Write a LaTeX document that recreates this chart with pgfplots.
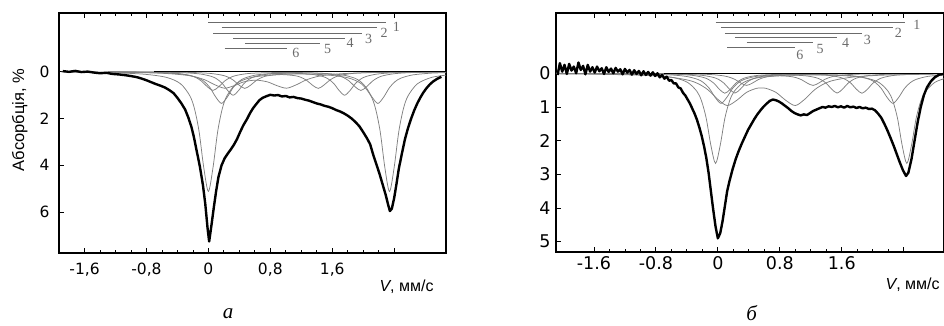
\documentclass[border=0pt]{standalone}
\usepackage{fontspec}
\usepackage{pgfplots}
\pgfplotsset{compat=1.18}
\newfontfamily\dvs{DejaVu Sans}
\newfontfamily\lsans{Liberation Sans}
\newfontfamily\lserif{Liberation Serif}
\definecolor{compc}{gray}{0.5}
\definecolor{legc}{gray}{0.42}
\tikzset{legn/.style={legc, font=\lserif\fontsize{14}{15}\selectfont}}
\pgfplotsset{
 spec/.style={
  scale only axis, y dir=reverse, axis line style={line width=1.3pt},
  xtick pos=both, ytick pos=left, minor x tick num=3,
  major tick length=5pt, minor tick length=3pt,
  every tick/.style={black, line width=0.9pt},
  every minor tick/.append style={black, line width=0.8pt},
  xtick={-1.6,-0.8,0,0.8,1.6,2.4},
  xlabel={\lsans\fontsize{16}{18}\selectfont\textit{V}, мм/с},
  clip=true,
 },
 compl/.style={compc, line width=0.75pt, smooth, no marks},
 env/.style={black, line width=2.4pt, no marks, line join=round},
 legl/.style={legc, line width=1.2pt, no marks},
}
\begin{document}
\begin{tikzpicture}
\useasboundingbox (0,0) rectangle (944pt,325pt);
% ---------------- panel a ----------------
\begin{axis}[spec, at={(59pt,72pt)}, anchor=south west, width=387pt, height=240pt,
  xmin=-1.93, xmax=3.07, ymin=-2.5, ymax=7.74,
  xticklabels={{-1,6},{-0,8},0,{0,8},{1,6},{}},
  ytick={0,2,4,6}, yticklabels={0,2,4,6},
  tick label style={font=\dvs\fontsize{15.5}{18}\selectfont},
  xticklabel style={yshift=-6pt}, yticklabel style={xshift=-6pt},
  ylabel={\lsans\fontsize{16.5}{18}\selectfont Абсорбція, \%},
  ylabel style={at={(axis description cs:-0.1016,0.554)}, anchor=center},
  xlabel style={at={(axis description cs:0.898,-0.140)}, anchor=center},
]
% legend bars
\addplot[legl] coordinates {(0.00,-2.11) (2.30,-2.11)};
\addplot[legl] coordinates {(0.17,-1.89) (2.18,-1.89)};
\addplot[legl] coordinates {(0.06,-1.64) (1.98,-1.64)};
\addplot[legl] coordinates {(0.32,-1.42) (1.76,-1.42)};
\addplot[legl] coordinates {(0.47,-1.21) (1.44,-1.21)};
\addplot[legl] coordinates {(0.21,-1.00) (1.01,-1.00)};
\node[legn] at (axis cs:2.43,-1.90) {1};
\node[legn] at (axis cs:2.27,-1.66) {2};
\node[legn] at (axis cs:2.07,-1.40) {3};
\node[legn] at (axis cs:1.83,-1.22) {4};
\node[legn] at (axis cs:1.54,-0.97) {5};
\node[legn] at (axis cs:1.13,-0.80) {6};
% components
\addplot[compl] coordinates {(-1.9,0.02) (-1.3,0.043) (-0.84,0.109) (-0.54,0.248) (-0.36,0.519) (-0.24,1.03) (-0.18,1.579) (-0.12,2.56) (-0.06,4.09) (0,5.11) (0.06,4.09) (0.12,2.56) (0.18,1.58) (0.24,1.03) (0.36,0.52) (0.54,0.263) (0.84,0.135) (1.17,0.106) (1.50,0.135) (1.80,0.263) (1.98,0.53) (2.10,1.04) (2.16,1.585) (2.22,2.565) (2.28,4.095) (2.34,5.115) (2.40,4.094) (2.46,2.564) (2.52,1.582) (2.58,1.033) (2.70,0.522) (2.88,0.251) (3.07,0.15)};
\addplot[compl] coordinates {(-1.3,0.014) (-0.88,0.03) (-0.505,0.068) (-0.28,0.139) (-0.13,0.275) (-0.055,0.42) (0.02,0.68) (0.095,1.085) (0.17,1.355) (0.245,1.085) (0.32,0.68) (0.395,0.42) (0.47,0.276) (0.62,0.142) (0.845,0.08) (1.18,0.058) (1.515,0.08) (1.74,0.147) (1.89,0.28) (1.965,0.424) (2.04,0.683) (2.115,1.088) (2.19,1.357) (2.265,1.087) (2.34,0.682) (2.415,0.421) (2.49,0.276) (2.64,0.141) (2.865,0.069) (3.07,0.044)};
\addplot[compl] coordinates {(-1.3,0.01) (-0.99,0.018) (-0.615,0.04) (-0.39,0.082) (-0.24,0.163) (-0.165,0.249) (-0.09,0.403) (-0.015,0.643) (0.06,0.803) (0.135,0.643) (0.21,0.403) (0.285,0.249) (0.36,0.164) (0.51,0.084) (0.735,0.049) (1.015,0.039) (1.295,0.049) (1.52,0.088) (1.67,0.167) (1.745,0.252) (1.82,0.406) (1.895,0.645) (1.97,0.805) (2.045,0.645) (2.12,0.405) (2.195,0.251) (2.27,0.165) (2.42,0.084) (2.645,0.04) (3.07,0.018)};
\addplot[compl] coordinates {(-1.3,0.009) (-0.66,0.023) (-0.31,0.051) (-0.10,0.105) (0.04,0.206) (0.11,0.314) (0.18,0.507) (0.25,0.807) (0.32,1.008) (0.39,0.808) (0.46,0.508) (0.53,0.317) (0.60,0.21) (0.74,0.119) (0.88,0.083) (1.04,0.073) (1.20,0.083) (1.34,0.119) (1.48,0.21) (1.55,0.317) (1.62,0.508) (1.69,0.808) (1.76,1.008) (1.83,0.807) (1.90,0.507) (1.97,0.314) (2.04,0.206) (2.18,0.105) (2.39,0.051) (2.74,0.023) (3.07,0.014)};
\addplot[compl] coordinates {(-1.3,0.007) (-0.58,0.018) (-0.205,0.038) (0.02,0.076) (0.17,0.148) (0.245,0.223) (0.32,0.359) (0.395,0.57) (0.47,0.717) (0.545,0.58) (0.62,0.374) (0.695,0.244) (0.77,0.175) (0.945,0.127) (1.12,0.175) (1.195,0.244) (1.27,0.374) (1.345,0.58) (1.42,0.717) (1.495,0.57) (1.57,0.359) (1.645,0.223) (1.72,0.148) (1.87,0.076) (2.095,0.038) (2.47,0.018) (3.07,0.008)};
\addplot[compl] coordinates {(-1.54,0.019) (-0.915,0.042) (-0.54,0.082) (-0.29,0.153) (-0.165,0.228) (-0.04,0.36) (0.085,0.564) (0.21,0.708) (0.335,0.598) (0.46,0.436) (0.61,0.365) (0.76,0.436) (0.885,0.598) (1.01,0.708) (1.135,0.564) (1.26,0.36) (1.385,0.228) (1.51,0.153) (1.76,0.082) (2.135,0.042) (2.76,0.019) (3.07,0.015)};
% baseline
\addplot[black, line width=1.5pt, no marks] coordinates {(-0.7,0) (3.07,0)};
% experimental envelope
\addplot[env] coordinates {(-1.88,-0.02) (-1.80,0.01) (-1.72,-0.03) (-1.64,0.02) (-1.56,0.00) (-1.48,0.04) (-1.40,0.07) (-1.32,0.05) (-1.24,0.10) (-1.16,0.12) (-1.08,0.15) (-1.00,0.19) (-0.92,0.24) (-0.86,0.30) (-0.80,0.37) (-0.74,0.45) (-0.68,0.53) (-0.62,0.60) (-0.56,0.68) (-0.50,0.80) (-0.45,0.92) (-0.40,1.12) (-0.35,1.35) (-0.30,1.62) (-0.26,1.95) (-0.22,2.35) (-0.19,2.75) (-0.15,3.40) (-0.11,4.05) (-0.07,4.85) (-0.04,5.65) (-0.01,6.70) (0.01,7.25) (0.04,6.55) (0.07,5.80) (0.10,5.10) (0.13,4.50) (0.17,4.00) (0.21,3.70) (0.25,3.50) (0.29,3.32) (0.33,3.12) (0.37,2.88) (0.41,2.58) (0.45,2.30) (0.50,2.02) (0.54,1.76) (0.58,1.55) (0.62,1.38) (0.66,1.22) (0.70,1.12) (0.75,1.05) (0.80,0.99) (0.85,1.02) (0.90,1.00) (0.95,1.06) (1.00,1.04) (1.05,1.10) (1.10,1.08) (1.15,1.13) (1.20,1.15) (1.25,1.20) (1.30,1.24) (1.35,1.30) (1.40,1.36) (1.45,1.40) (1.50,1.46) (1.55,1.50) (1.60,1.56) (1.65,1.64) (1.70,1.70) (1.75,1.78) (1.80,1.88) (1.85,2.00) (1.90,2.15) (1.95,2.33) (2.00,2.58) (2.05,2.85) (2.09,3.10) (2.13,3.55) (2.17,3.95) (2.21,4.35) (2.25,4.80) (2.29,5.25) (2.32,5.65) (2.345,5.95) (2.37,5.85) (2.40,5.40) (2.43,4.80) (2.46,4.15) (2.50,3.50) (2.54,2.88) (2.58,2.40) (2.62,2.00) (2.66,1.65) (2.70,1.35) (2.74,1.10) (2.78,0.88) (2.82,0.70) (2.86,0.55) (2.90,0.43) (2.95,0.32) (3.01,0.22)};
\end{axis}
% ---------------- panel b ----------------
\begin{axis}[spec, at={(556pt,73pt)}, anchor=south west, width=388pt, height=239pt,
  xmin=-2.09, xmax=2.92, ymin=-1.79, ymax=5.306,
  xticklabels={-1.6,-0.8,0,0.8,1.6,{}},
  ytick={0,1,2,3,4,5}, yticklabels={0,1,2,3,4,5},
  tick label style={font=\dvs\fontsize{17.5}{20}\selectfont},
  xticklabel style={yshift=-1pt}, yticklabel style={xshift=-2pt},
  xlabel style={at={(axis description cs:0.919,-0.136)}, anchor=center},
]
\addplot[legl] coordinates {(-0.03,-1.51) (2.42,-1.51)};
\addplot[legl] coordinates {(0.04,-1.37) (2.26,-1.37)};
\addplot[legl] coordinates {(0.09,-1.19) (1.86,-1.19)};
\addplot[legl] coordinates {(0.22,-1.07) (1.54,-1.07)};
\addplot[legl] coordinates {(0.37,-0.92) (1.23,-0.92)};
\addplot[legl] coordinates {(0.12,-0.77) (1.00,-0.77)};
\node[legn] at (axis cs:2.57,-1.43) {1};
\node[legn] at (axis cs:2.33,-1.21) {2};
\node[legn] at (axis cs:1.93,-0.99) {3};
\node[legn] at (axis cs:1.65,-0.89) {4};
\node[legn] at (axis cs:1.32,-0.72) {5};
\node[legn] at (axis cs:1.06,-0.54) {6};
\addplot[compl] coordinates {(-2.09,0.009) (-1.4,0.022) (-0.87,0.056) (-0.57,0.13) (-0.39,0.272) (-0.27,0.539) (-0.21,0.827) (-0.15,1.34) (-0.09,2.141) (-0.03,2.675) (0.03,2.141) (0.09,1.34) (0.15,0.828) (0.21,0.54) (0.33,0.273) (0.51,0.135) (0.81,0.067) (1.205,0.05) (1.60,0.067) (1.90,0.135) (2.08,0.273) (2.20,0.54) (2.26,0.828) (2.32,1.34) (2.38,2.141) (2.44,2.675) (2.50,2.141) (2.56,1.34) (2.62,0.827) (2.68,0.539) (2.80,0.272) (2.92,0.162)};
\addplot[compl] coordinates {(-2.09,0.004) (-1.01,0.02) (-0.635,0.045) (-0.41,0.092) (-0.26,0.181) (-0.185,0.277) (-0.11,0.448) (-0.035,0.715) (0.04,0.893) (0.115,0.716) (0.19,0.449) (0.265,0.278) (0.34,0.182) (0.49,0.094) (0.715,0.05) (1.15,0.032) (1.585,0.05) (1.81,0.094) (1.96,0.182) (2.035,0.278) (2.11,0.449) (2.185,0.716) (2.26,0.893) (2.335,0.715) (2.41,0.448) (2.485,0.277) (2.56,0.181) (2.71,0.092) (2.92,0.046)};
\addplot[compl] coordinates {(-2.09,0.002) (-0.89,0.014) (-0.54,0.03) (-0.33,0.061) (-0.19,0.121) (-0.12,0.185) (-0.05,0.298) (0.02,0.475) (0.09,0.593) (0.16,0.475) (0.23,0.298) (0.30,0.185) (0.37,0.122) (0.51,0.063) (0.72,0.037) (0.975,0.029) (1.23,0.037) (1.44,0.063) (1.58,0.122) (1.65,0.185) (1.72,0.298) (1.79,0.475) (1.86,0.593) (1.93,0.475) (2.00,0.298) (2.07,0.185) (2.14,0.121) (2.28,0.061) (2.49,0.03) (2.92,0.011)};
\addplot[compl] coordinates {(-2.09,0.002) (-0.76,0.014) (-0.41,0.03) (-0.20,0.062) (-0.06,0.121) (0.01,0.183) (0.08,0.296) (0.15,0.47) (0.22,0.587) (0.29,0.472) (0.36,0.298) (0.43,0.187) (0.50,0.126) (0.64,0.072) (0.88,0.05) (1.12,0.072) (1.26,0.126) (1.33,0.187) (1.40,0.298) (1.47,0.472) (1.54,0.587) (1.61,0.47) (1.68,0.296) (1.75,0.183) (1.82,0.121) (1.96,0.062) (2.17,0.03) (2.52,0.014) (2.92,0.007)};
\addplot[compl] coordinates {(-2.09,0.002) (-0.68,0.009) (-0.305,0.02) (-0.08,0.039) (0.07,0.075) (0.145,0.114) (0.22,0.181) (0.295,0.287) (0.37,0.36) (0.445,0.292) (0.52,0.19) (0.595,0.126) (0.67,0.094) (0.80,0.076) (0.93,0.094) (1.005,0.126) (1.08,0.19) (1.155,0.292) (1.23,0.36) (1.305,0.287) (1.38,0.181) (1.455,0.114) (1.53,0.075) (1.68,0.039) (1.905,0.02) (2.28,0.009) (2.92,0.005)};
\addplot[compl] coordinates {(-2.09,0.017) (-1.63,0.026) (-1.005,0.056) (-0.63,0.11) (-0.38,0.206) (-0.255,0.308) (-0.13,0.487) (-0.005,0.764) (0.12,0.957) (0.245,0.80) (0.37,0.566) (0.495,0.449) (0.56,0.434) (0.625,0.449) (0.75,0.566) (0.875,0.80) (1.0,0.957) (1.125,0.764) (1.25,0.487) (1.375,0.308) (1.5,0.206) (1.75,0.11) (2.125,0.056) (2.75,0.026) (2.92,0.022)};
\addplot[black, line width=1.5pt, no marks] coordinates {(-0.7,0) (2.92,0)};
\addplot[env] coordinates {(-2.07,0.05) (-2.04,-0.30) (-2.01,-0.05) (-1.98,-0.25) (-1.95,0.02) (-1.92,-0.28) (-1.89,-0.08) (-1.86,-0.20) (-1.83,0.00) (-1.80,-0.32) (-1.77,-0.10) (-1.74,-0.22) (-1.71,0.03) (-1.68,-0.25) (-1.65,-0.05) (-1.62,-0.18) (-1.59,-0.02) (-1.56,-0.20) (-1.53,-0.06) (-1.50,-0.15) (-1.47,0.02) (-1.44,-0.18) (-1.41,-0.04) (-1.38,-0.14) (-1.35,0.00) (-1.32,-0.16) (-1.29,-0.05) (-1.26,-0.12) (-1.23,0.03) (-1.20,-0.13) (-1.17,-0.02) (-1.14,-0.10) (-1.11,0.04) (-1.08,-0.09) (-1.05,0.02) (-1.02,-0.07) (-0.99,0.06) (-0.96,-0.06) (-0.93,0.05) (-0.90,-0.04) (-0.87,0.07) (-0.84,-0.03) (-0.81,0.08) (-0.78,0.00) (-0.75,0.12) (-0.72,0.05) (-0.69,0.16) (-0.66,0.10) (-0.63,0.22) (-0.60,0.20) (-0.57,0.30) (-0.54,0.30) (-0.51,0.42) (-0.48,0.45) (-0.45,0.58) (-0.42,0.66) (-0.39,0.78) (-0.36,0.90) (-0.33,1.05) (-0.30,1.20) (-0.27,1.38) (-0.24,1.60) (-0.21,1.85) (-0.18,2.15) (-0.15,2.50) (-0.12,2.95) (-0.09,3.50) (-0.06,4.05) (-0.03,4.55) (0.00,4.90) (0.03,4.75) (0.06,4.40) (0.09,3.95) (0.12,3.50) (0.15,3.20) (0.19,2.85) (0.23,2.55) (0.27,2.30) (0.31,2.08) (0.35,1.88) (0.39,1.68) (0.43,1.52) (0.47,1.36) (0.51,1.22) (0.55,1.10) (0.59,0.99) (0.63,0.90) (0.67,0.82) (0.71,0.78) (0.75,0.80) (0.79,0.84) (0.83,0.90) (0.87,0.97) (0.91,1.04) (0.95,1.12) (0.99,1.18) (1.03,1.22) (1.07,1.25) (1.11,1.22) (1.15,1.24) (1.19,1.18) (1.23,1.12) (1.27,1.08) (1.31,1.04) (1.35,1.00) (1.39,1.02) (1.43,0.98) (1.47,1.00) (1.51,0.97) (1.55,1.01) (1.59,0.98) (1.63,1.02) (1.67,0.97) (1.71,1.01) (1.75,0.99) (1.79,1.03) (1.83,1.00) (1.87,1.04) (1.91,1.02) (1.95,1.06) (1.99,1.05) (2.03,1.10) (2.07,1.20) (2.11,1.32) (2.15,1.50) (2.19,1.70) (2.23,1.92) (2.27,2.15) (2.31,2.40) (2.35,2.65) (2.39,2.88) (2.43,3.05) (2.46,2.95) (2.50,2.55) (2.54,2.00) (2.58,1.45) (2.62,1.00) (2.66,0.65) (2.70,0.42) (2.75,0.24) (2.80,0.12) (2.86,0.04) (2.92,0.02)};
\end{axis}
\node[inner sep=0pt, font=\lserif\itshape\fontsize{21}{24}\selectfont] at (228pt,11pt) {а};
\node[inner sep=0pt, font=\lserif\itshape\fontsize{21}{24}\selectfont] at (751.7pt,12pt) {б};
\end{tikzpicture}
\end{document}
